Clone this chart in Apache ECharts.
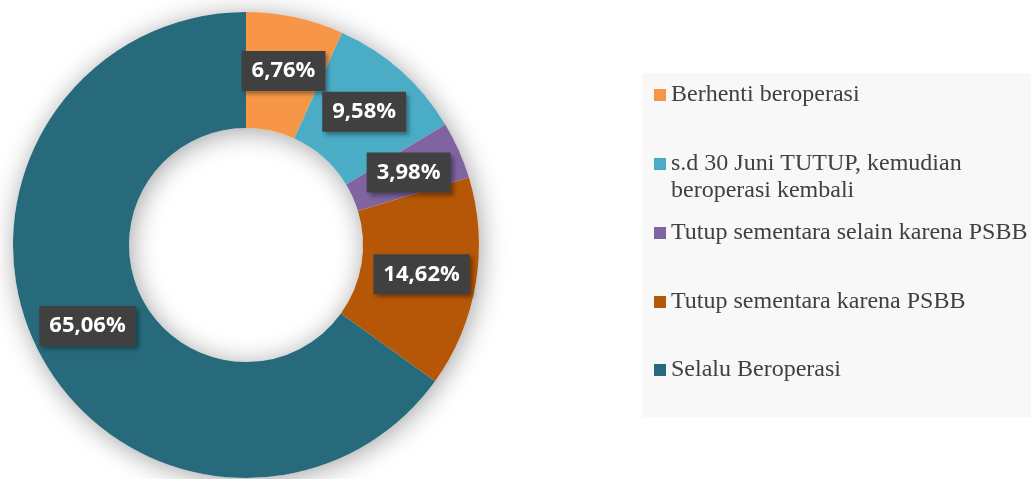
<!DOCTYPE html>
<html><head><meta charset="utf-8">
<script src="https://cdn.jsdelivr.net/npm/echarts@6/dist/echarts.min.js"></script>
<style>html,body{margin:0;padding:0;background:#fff}#c{width:1031px;height:479px}</style>
</head><body><div id="c"></div>
<script>
const categories = ['Berhenti beroperasi','s.d 30 Juni TUTUP, kemudian beroperasi kembali','Tutup sementara selain karena PSBB','Tutup sementara karena PSBB','Selalu Beroperasi'];
const values = [6.76, 9.58, 3.98, 14.62, 65.06];
const colors = ['#F79646','#4BACC6','#8064A2','#B65708','#276A7C'];
const legendText = ['Berhenti beroperasi','\ns.d 30 Juni TUTUP, kemudian\nberoperasi kembali','Tutup sementara selain karena PSBB','Tutup sementara karena PSBB','Selalu Beroperasi'];
const legendCenters = [95, 164, 233, 302, 370];

const chart = echarts.init(document.getElementById('c'));
const LH = 27;
const legends = categories.map((name, i) => {
  const lines = legendText[i].split('\n').length;
  return {
    data: [name],
    left: 654,
    top: legendCenters[i] - lines * LH / 2,
    orient: 'vertical',
    itemWidth: 12, itemHeight: 12,
    selectedMode: false,
    icon: 'rect',
    padding: 0,
    formatter: () => legendText[i],
    textStyle: {fontFamily: '"Liberation Serif", "Times New Roman", serif', fontSize: 24, color: '#404040', lineHeight: LH}
  };
});

chart.setOption({
  backgroundColor: '#ffffff',
  animation: false,
  color: colors,
  graphic: [{type: 'rect', left: 642, top: 73, shape: {width: 389, height: 344}, style: {fill: '#f8f8f8'}, z: -10}],
  legend: legends,
  series: [
    {
      type: 'pie', radius: [117, 233], center: [246, 245], silent: true, z: 1,
      label: {show: false}, labelLine: {show: false},
      itemStyle: {color: '#ffffff', shadowBlur: 26, shadowColor: 'rgba(0,0,0,0.36)', shadowOffsetX: 2, shadowOffsetY: 3},
      data: [{value: 1, name: '_bg'}]
    },
    {
      type: 'pie', radius: [117, 233], center: [246, 245], startAngle: 90, clockwise: true, z: 2,
      avoidLabelOverlap: false,
      labelLayout: {hideOverlap: false},
      itemStyle: {borderWidth: 0},
      label: {
        show: true, position: 'inside',
        formatter: p => p.value.toFixed(2).replace('.', ',') + '%',
        color: '#ffffff', fontFamily: '"Open Sans", sans-serif', fontWeight: 'bold', fontSize: 22, lineHeight: 24,
        backgroundColor: '#404040', padding: [8, 10],
        shadowColor: 'rgba(0,0,0,0.35)', shadowBlur: 4, shadowOffsetX: 3, shadowOffsetY: 3
      },
      labelLine: {show: false},
      emphasis: {disabled: true},
      data: categories.map((n, i) => ({name: n, value: values[i]}))
    }
  ]
});
</script></body></html>
